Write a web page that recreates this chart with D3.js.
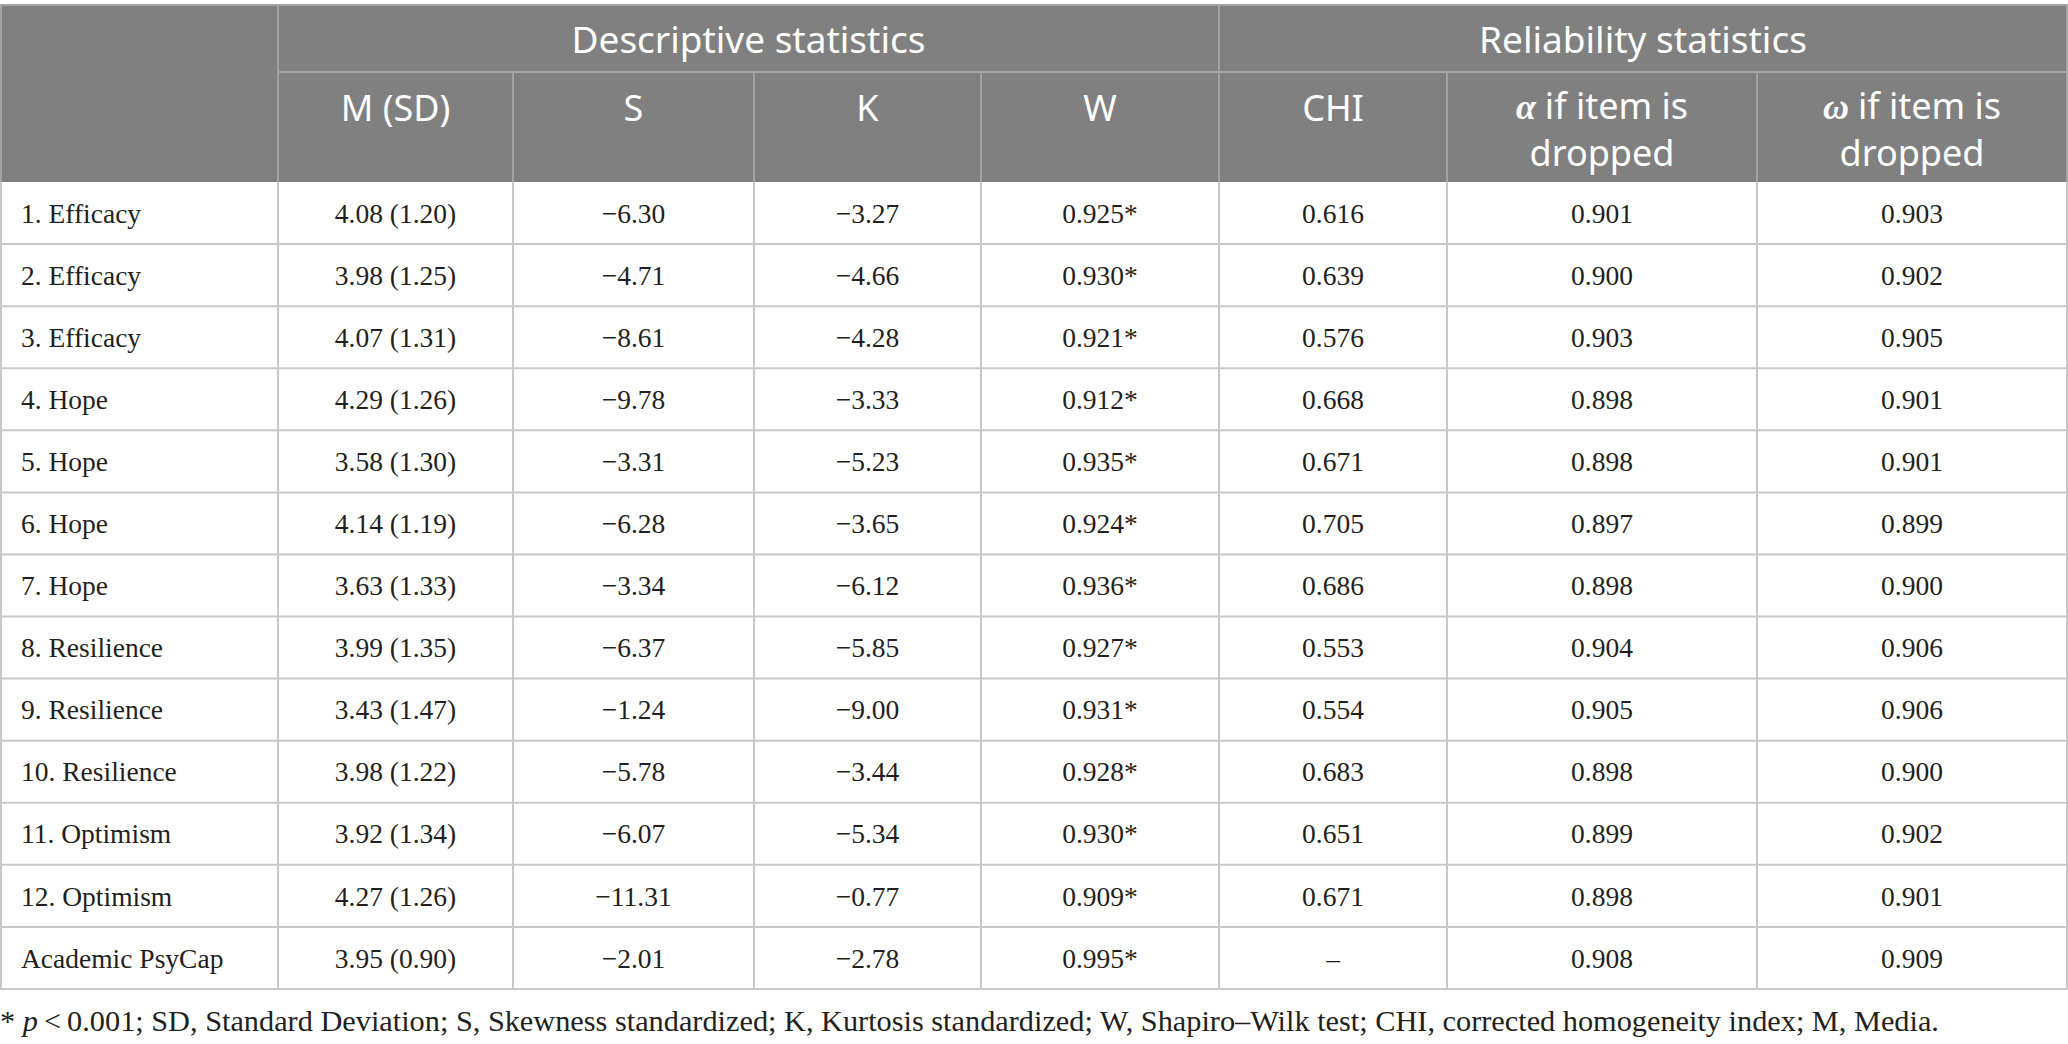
<!DOCTYPE html>
<html>
<head>
<meta charset="utf-8">
<script src="https://cdn.jsdelivr.net/npm/d3@7"></script>
<style>
  html, body { margin: 0; padding: 0; background: #fff; }
  svg { display: block; }
</style>
</head>
<body>
<svg id="chart" width="2068" height="1044"></svg>
<script>
// table values
var items = ["1. Efficacy", "2. Efficacy", "3. Efficacy", "4. Hope", "5. Hope", "6. Hope", "7. Hope",
  "8. Resilience", "9. Resilience", "10. Resilience", "11. Optimism", "12. Optimism", "Academic PsyCap"];
var means = [4.08, 3.98, 4.07, 4.29, 3.58, 4.14, 3.63, 3.99, 3.43, 3.98, 3.92, 4.27, 3.95];
var sds = [1.20, 1.25, 1.31, 1.26, 1.30, 1.19, 1.33, 1.35, 1.47, 1.22, 1.34, 1.26, 0.90];
var skew = [-6.30, -4.71, -8.61, -9.78, -3.31, -6.28, -3.34, -6.37, -1.24, -5.78, -6.07, -11.31, -2.01];
var kurt = [-3.27, -4.66, -4.28, -3.33, -5.23, -3.65, -6.12, -5.85, -9.00, -3.44, -5.34, -0.77, -2.78];
var shapiro = [0.925, 0.930, 0.921, 0.912, 0.935, 0.924, 0.936, 0.927, 0.931, 0.928, 0.930, 0.909, 0.995];
var chi = [0.616, 0.639, 0.576, 0.668, 0.671, 0.705, 0.686, 0.553, 0.554, 0.683, 0.651, 0.671, null];
var alphaDrop = [0.901, 0.900, 0.903, 0.898, 0.898, 0.897, 0.898, 0.904, 0.905, 0.898, 0.899, 0.898, 0.908];
var omegaDrop = [0.903, 0.902, 0.905, 0.901, 0.901, 0.899, 0.900, 0.906, 0.906, 0.900, 0.902, 0.901, 0.909];

var groupLabels = ["Descriptive statistics", "Reliability statistics"];
var colLabels = ["", "M (SD)", "S", "K", "W", "CHI", "if item is|dropped", "if item is|dropped"];
var colGreek = ["", "", "", "", "", "", "α", "ω"];

// layout
var W = 2068;
var colEdges = [0, 278, 513, 754, 981, 1219, 1447, 1757, 2067];
var tableTop = 5, head1 = 72, headBottom = 182, tableBottom = 989;
var headFill = "#808080", headLine = "#a3a3a3", gridLine = "#c8c8c8", textCol = "#231f20";
var sans = "'Noto Sans', 'Open Sans', sans-serif";
var serif = "'Liberation Serif', 'DejaVu Serif', serif";

var svg = d3.select("#chart");

var f2 = d3.format(".2f"), f3 = d3.format(".3f");

var y = d3.scaleBand()
  .domain(items)
  .range([headBottom, tableBottom]);

function colCenter(i) { return (colEdges[i] + colEdges[i + 1]) / 2; }

// header background
svg.append("rect")
  .attr("x", 0).attr("y", tableTop)
  .attr("width", W).attr("height", headBottom - tableTop)
  .attr("fill", headFill);

// header lines
var hl = svg.append("g").attr("stroke", headLine).attr("stroke-width", 2);
hl.append("line").attr("x1", 0).attr("x2", W).attr("y1", tableTop).attr("y2", tableTop);
hl.append("line").attr("x1", colEdges[1]).attr("x2", W).attr("y1", head1).attr("y2", head1);
colEdges.forEach(function(x, i) {
  var top = (i === 0 || i === 1 || i === 5 || i === 8) ? tableTop : head1;
  hl.append("line")
    .attr("x1", x + (i === 0 ? 1 : 0)).attr("x2", x + (i === 0 ? 1 : 0))
    .attr("y1", top).attr("y2", headBottom);
});

// group headers
var groupSpans = [[1, 5], [5, 8]];
svg.selectAll(".group")
  .data(groupLabels)
  .join("text")
  .attr("class", "group")
  .attr("x", function(d, i) { return (colEdges[groupSpans[i][0]] + colEdges[groupSpans[i][1]]) / 2; })
  .attr("y", 40)
  .attr("dy", "0.35em")
  .attr("text-anchor", "middle")
  .attr("fill", "#fff")
  .style("font-family", sans)
  .style("font-size", "37px")
  .text(function(d) { return d; });

// column headers (one or two lines)
colLabels.forEach(function(lbl, i) {
  if (!lbl) return;
  var lines = lbl.split("|");
  var top = lines.length > 1 ? 106 : 108;
  lines.forEach(function(line, k) {
    var t = svg.append("text")
      .attr("x", colCenter(i))
      .attr("y", top + k * 47)
      .attr("dy", "0.35em")
      .attr("text-anchor", "middle")
      .attr("fill", "#fff")
      .style("font-family", sans)
      .style("font-size", "36px");
    if (k === 0 && colGreek[i]) {
      t.append("tspan")
        .style("font-family", serif)
        .style("font-style", "italic")
        .style("font-weight", "bold")
        .text(colGreek[i] + " ");
    }
    t.append("tspan").text(line);
  });
});

// data grid
var gl = svg.append("g").attr("stroke", gridLine).attr("stroke-width", 2);
gl.selectAll(".hrow")
  .data(items)
  .join("line")
  .attr("x1", 0).attr("x2", W)
  .attr("y1", function(d) { return y(d) + y.bandwidth(); })
  .attr("y2", function(d) { return y(d) + y.bandwidth(); });
colEdges.forEach(function(x, i) {
  gl.append("line")
    .attr("x1", x + (i === 0 ? 1 : 0)).attr("x2", x + (i === 0 ? 1 : 0))
    .attr("y1", headBottom).attr("y2", tableBottom);
});

// cell text
var columns = [
  function(i) { return items[i]; },
  function(i) { return f2(means[i]) + " (" + f2(sds[i]) + ")"; },
  function(i) { return f2(skew[i]); },
  function(i) { return f2(kurt[i]); },
  function(i) { return f3(shapiro[i]) + "*"; },
  function(i) { return chi[i] === null ? "–" : f3(chi[i]); },
  function(i) { return f3(alphaDrop[i]); },
  function(i) { return f3(omegaDrop[i]); }
];

var rows = svg.selectAll(".row")
  .data(items)
  .join("g")
  .attr("class", "row")
  .attr("transform", function(d) { return "translate(0," + (y(d) + y.bandwidth() / 2) + ")"; });

columns.forEach(function(fn, c) {
  rows.append("text")
    .attr("x", c === 0 ? 21 : colCenter(c))
    .attr("dy", "0.35em")
    .attr("text-anchor", c === 0 ? "start" : "middle")
    .attr("fill", textCol)
    .style("font-family", serif)
    .style("font-size", "27.5px")
    .text(function(d, i) { return fn(i); });
});

// footnote
var note = svg.append("text")
  .attr("x", 0)
  .attr("y", 1020)
  .attr("dy", "0.35em")
  .attr("fill", textCol)
  .style("font-family", serif)
  .style("font-size", "30.3px");
note.append("tspan").text("* ");
note.append("tspan").style("font-style", "italic").text("p");
note.append("tspan").text("\u2009<\u20090.001; SD, Standard Deviation; S, Skewness standardized; K, Kurtosis standardized; W, Shapiro–Wilk test; CHI, corrected homogeneity index; M, Media.");
</script>
</body>
</html>
